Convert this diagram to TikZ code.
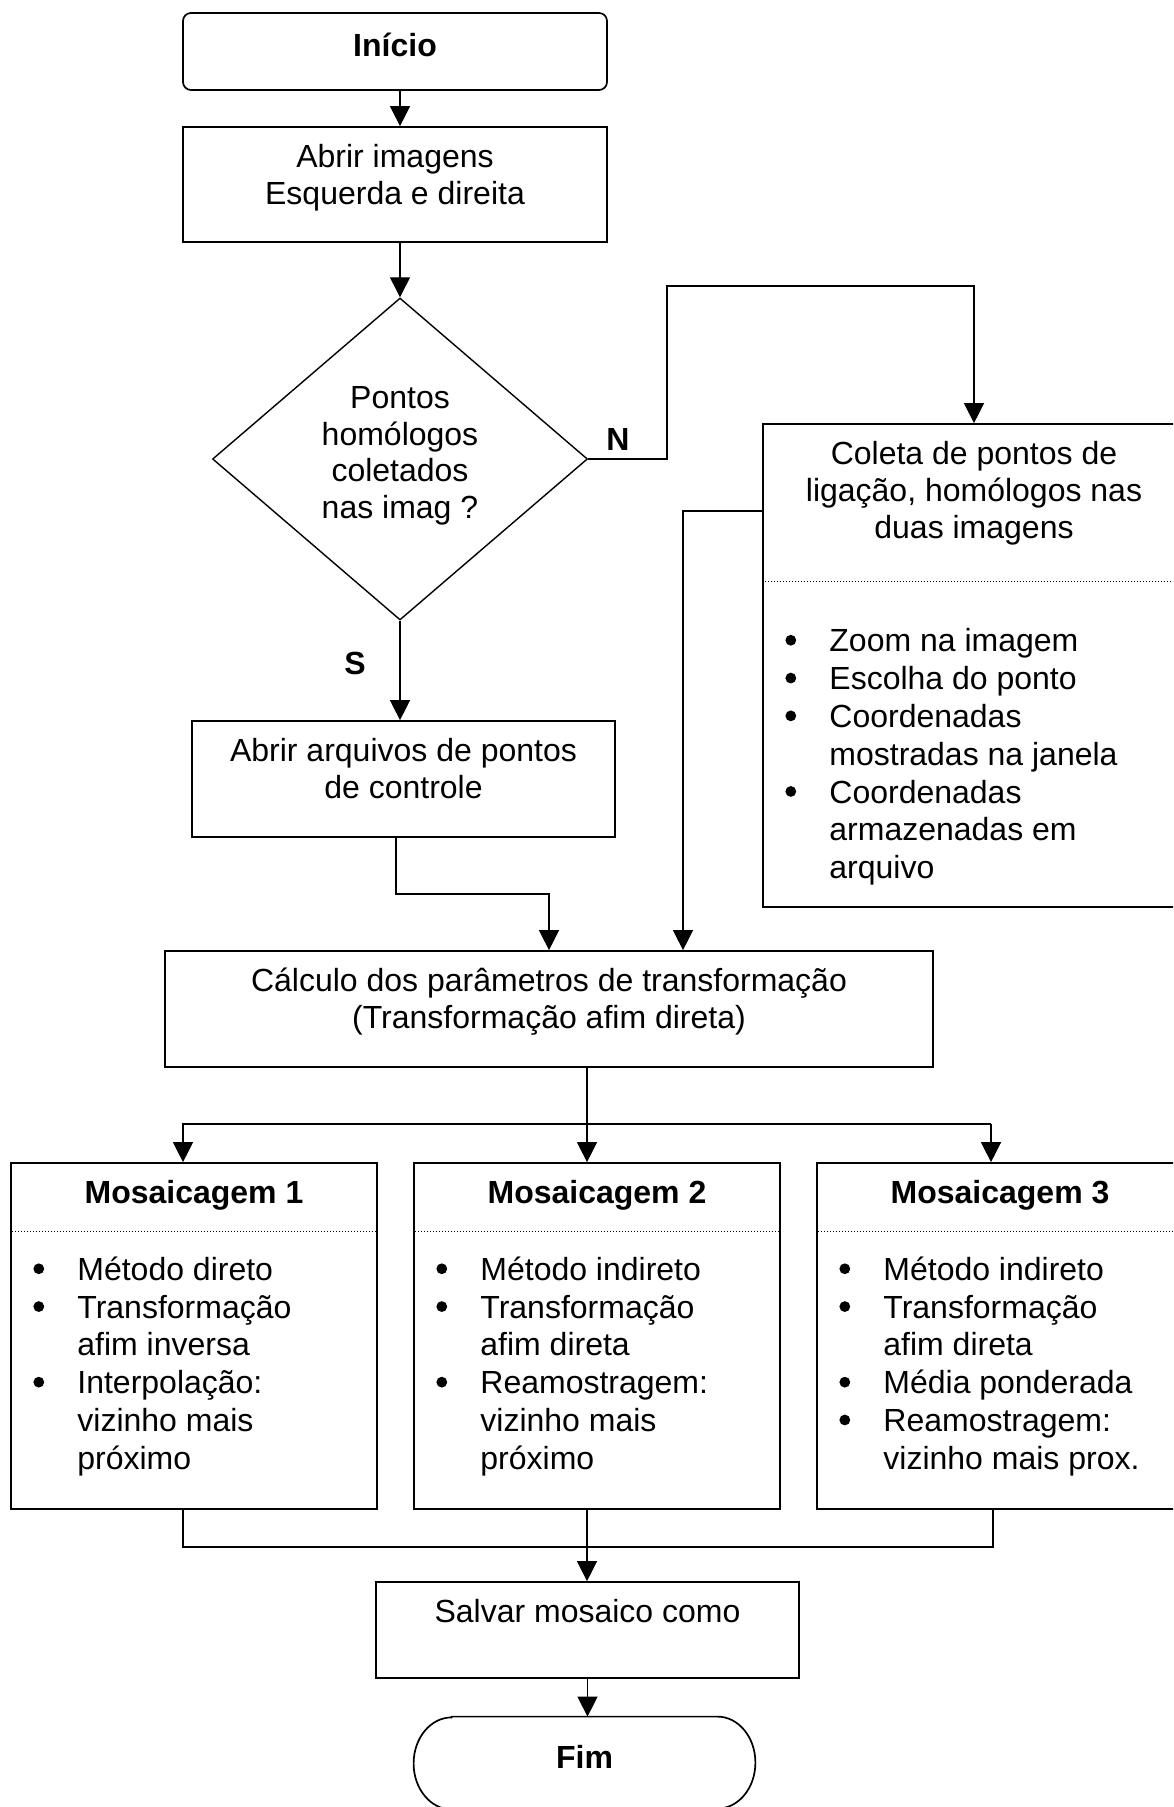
\documentclass[tikz,border=0pt]{standalone}
\usepackage{fontspec}
\setmainfont{Liberation Sans}
\usetikzlibrary{arrows.meta,shapes.geometric}
% tall invisible strut: fixes the top of the first text line
\newcommand\hs{\rule{0pt}{16pt}}
% round list bullet
\newcommand\bul{\tikz[baseline=0pt]\fill (2.7pt,5.8pt) circle[radius=2.7pt];}
\begin{document}
\begin{tikzpicture}[x=0.5pt,y=-0.5pt,
  box/.style={draw, line width=0.85pt, rectangle, inner sep=0pt},
  txt/.style={anchor=north, align=center, inner sep=0pt, font=\fontsize{16pt}{18.4pt}\selectfont},
  txtb/.style={txt, font=\fontsize{16pt}{18.4pt}\selectfont\bfseries},
  lst/.style={anchor=north west, inner sep=0pt, font=\fontsize{16pt}{18.9pt}\selectfont},
  lbl/.style={inner sep=0pt, font=\fontsize{16pt}{18.4pt}\selectfont\bfseries},
  arr/.style={line width=0.65pt, -{Triangle[length=10pt,width=10pt]}},
  con/.style={line width=0.65pt},
  sep/.style={line width=0.6pt, dash pattern=on 0.6pt off 0.9pt}]
\useasboundingbox (0,0) rectangle (1173,1807);
\clip (0,0) rectangle (1173,1807);

% ---- start and first step
\node[box, rounded corners=4pt, minimum width=212pt, minimum height=38.5pt] (inicio) at (395,51.5) {};
\node[txtb] (inicioT) at ([yshift=-6pt]inicio.north) {\hs Início};

\node[box, minimum width=212pt, minimum height=57.5pt] (abrir) at (395,184.5) {};
\node[txt] (abrirT) at ([yshift=-4.5pt]abrir.north) {\hs Abrir imagens\\Esquerda e direita};

% ---- decision
\node[draw, line width=0.7pt, diamond, inner sep=0pt, minimum width=187.5pt, minimum height=161pt] (dia) at (400,459) {};
\node[txt] (diaT) at (400,376) {\hs Pontos\\homólogos\\coletados\\nas imag ?};
\node[lbl] (nlab) at (618,439) {N};
\node[lbl] (slab) at (355,663) {S};

% ---- point collection
\node[box, minimum width=211pt, minimum height=241.5pt] (coleta) at (974,665.5) {};
\node[txt] (coletaT) at ([yshift=-4.5pt]coleta.north) {\hs Coleta de pontos de\\ligação, homólogos nas\\duas imagens};
\draw[sep] ([yshift=-79pt]coleta.north west) -- ([yshift=-79pt]coleta.north east);
\node[lst] (coletaL) at (785,625) {\begin{tabular}{@{}p{22pt}@{}l@{}}
\bul & Zoom na imagem\\
\bul & Escolha do ponto\\
\bul & Coordenadas\\
 & mostradas na janela\\
\bul & Coordenadas\\
 & armazenadas em\\
 & arquivo
\end{tabular}};

% ---- control point files
\node[box, minimum width=211.5pt, minimum height=58pt] (arq) at (403.5,779) {};
\node[txt] (arqT) at ([yshift=-4.5pt]arq.north) {\hs Abrir arquivos de pontos\\de controle};

% ---- parameters
\node[box, minimum width=384pt, minimum height=58pt] (calc) at (549,1009) {};
\node[txt] (calcT) at ([yshift=-4.5pt]calc.north) {\hs Cálculo dos parâmetros de transformação\\(Transformação afim direta)};

% ---- three mosaicking methods
\foreach \n/\cx in {1/194, 2/597, 3/1000} {
  \node[box, minimum width=183pt, minimum height=173pt] (mos\n) at (\cx,1336) {};
  \node[txtb] (mos\n T) at ([yshift=-4.5pt]mos\n.north) {\hs Mosaicagem \n};
  \draw[sep] ([yshift=-34.5pt,xshift=1pt]mos\n.north west) -- ([yshift=-34.5pt,xshift=-1pt]mos\n.north east);
}
\node[lst] (mos1L) at (33,1253.5) {\begin{tabular}{@{}p{22pt}@{}l@{}}
\bul & Método direto\\
\bul & Transformação\\
 & afim inversa\\
\bul & Interpolação:\\
 & vizinho mais\\
 & próximo
\end{tabular}};
\node[lst] (mos2L) at (436,1253.5) {\begin{tabular}{@{}p{22pt}@{}l@{}}
\bul & Método indireto\\
\bul & Transformação\\
 & afim direta\\
\bul & Reamostragem:\\
 & vizinho mais\\
 & próximo
\end{tabular}};
\node[lst] (mos3L) at (839,1253.5) {\begin{tabular}{@{}p{22pt}@{}l@{}}
\bul & Método indireto\\
\bul & Transformação\\
 & afim direta\\
\bul & Média ponderada\\
\bul & Reamostragem:\\
 & vizinho mais prox.
\end{tabular}};

% ---- save and end
\node[box, minimum width=211.5pt, minimum height=48pt] (salvar) at (587.5,1630) {};
\node[txt] (salvarT) at ([yshift=-4.5pt]salvar.north) {\hs Salvar mosaico como};

\node[minimum width=170.5pt, minimum height=46pt, inner sep=0pt] (fim) at (584.5,1763) {};
\draw[line width=0.85pt] ([xshift=19pt]fim.north west) -- ([xshift=-19pt]fim.north east)
  arc[start angle=90, end angle=-90, x radius=19pt, y radius=23pt]
  -- ([xshift=19pt]fim.south west)
  arc[start angle=270, end angle=90, x radius=19pt, y radius=23pt] -- cycle;
\node[txtb] (fimT) at (584.5,1736) {\hs Fim};

% ---- connectors
\coordinate (nbend) at (667,286);
\coordinate (arqjoin) at (396,894);
\coordinate (coljoin) at (683,511);
\coordinate (br) at (587,1124);
\coordinate (b1) at (183,1124);
\coordinate (b3) at (991,1124);
\coordinate (j1) at (183,1547);
\coordinate (j3) at (993,1547);

\draw[arr] (inicio.south -| dia.north) -- (abrir.north -| dia.north);
\draw[arr] (abrir.south -| dia.north) -- (dia.north);
\draw[arr] (dia.east) -- (dia.east -| nbend) -- (nbend) -- (nbend -| coleta.north) -- (coleta.north);
\draw[arr] (dia.south) -- (arq.north -| dia.south);
\draw[arr] (arqjoin |- arq.south) -- (arqjoin) -- (arqjoin -| calc.north) -- (calc.north);
\draw[arr] (coleta.west |- coljoin) -- (coljoin) -- (coljoin |- calc.north);
\draw[arr] (br |- calc.south) -- (br |- mos2.north);
\draw[arr] (b3) -- (b1) -- (b1 |- mos1.north);
\draw[arr] (b3) -- (b3 |- mos3.north);
\draw[con] (j1 |- mos1.south) -- (j1) -- (j3) -- (j3 |- mos3.south);
\draw[arr] (br |- mos2.south) -- (br |- salvar.north);
\draw[arr] (salvar.south) -- (salvar.south |- fim.north);
\end{tikzpicture}
\end{document}
